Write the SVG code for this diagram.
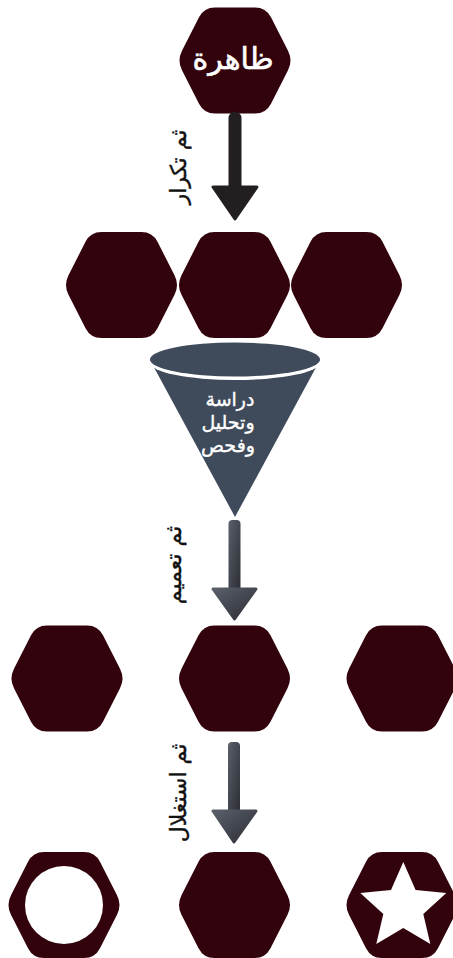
<svg xmlns="http://www.w3.org/2000/svg" width="453" height="958" viewBox="0 0 453 958">
<style>
.hex{fill:#33030d}
.lbl{font-family:"DejaVu Sans","Noto Sans",sans-serif;font-size:22px;fill:#111;text-anchor:middle;stroke:#111;stroke-width:0.4}
.ftxt{font-family:"DejaVu Sans","Noto Sans",sans-serif;font-size:19px;fill:#fff;text-anchor:middle;stroke:#fff;stroke-width:0.4}
.title{font-family:"DejaVu Sans","Noto Sans",sans-serif;font-size:30px;fill:#fff;text-anchor:middle;stroke:#fff;stroke-width:0.6}
</style>
<defs>
<path id="hx" d="M -53.01,-9.8 L -35.99,-43.2 Q -31,-53 -20,-53 L 20,-53 Q 31,-53 35.99,-43.2 L 53.01,-9.8 Q 58,0 53.01,9.8 L 35.99,43.2 Q 31,53 20,53 L -20,53 Q -31,53 -35.99,43.2 L -53.01,9.8 Q -58,0 -53.01,-9.8 Z"/>
<linearGradient id="ag" x1="0" y1="0" x2="1" y2="1">
<stop offset="0" stop-color="#5a5f6a"/>
<stop offset="1" stop-color="#2c2e34"/>
</linearGradient>
</defs>
<g id="phenomenon">
<use href="#hx" class="hex" transform="translate(235,60.5)"/>
<text class="title" x="233" y="69">ظاهرة</text>
</g>
<g id="row2">
<use href="#hx" class="hex" transform="translate(121.5,285)"/>
<use href="#hx" class="hex" transform="translate(234.5,285)"/>
<use href="#hx" class="hex" transform="translate(346.5,285)"/>
</g>
<g id="funnel">
<polygon points="150,360 320,360 235,517" fill="#3f4b5b"/>
<ellipse cx="235" cy="362.5" rx="85" ry="17.5" fill="#fff"/>
<ellipse cx="235" cy="359.5" rx="85" ry="17" fill="#3f4b5b"/>
<text class="ftxt" x="230" y="406">دراسة</text>
<text class="ftxt" x="228" y="429">وتحليل</text>
<text class="ftxt" x="228" y="452">وفحص</text>
</g>
<g id="row3">
<use href="#hx" class="hex" transform="translate(67,678.5)"/>
<use href="#hx" class="hex" transform="translate(234.5,678.5)"/>
<use href="#hx" class="hex" transform="translate(402,678.5)"/>
</g>
<g id="row4-circle">
<use href="#hx" class="hex" transform="translate(64,905)"/>
<circle cx="64" cy="905" r="39" fill="#fff"/>
</g>
<g id="row4-middle">
<use href="#hx" class="hex" transform="translate(234.5,905)"/>
</g>
<g id="row4-star">
<use href="#hx" class="hex" transform="translate(402,905)"/>
<polygon fill="#fff" points="403.3,862 415.6,890 446.3,893 423.3,914 430.3,944 403.3,928 376.3,944 383.3,914 360.3,893 391,890"/>
</g>
<g id="connectors">
<path d="M235,118 L235,190" stroke="#231f20" stroke-width="13" stroke-linecap="round"/>
<path d="M213,187 L257,187 L235,219 Z" fill="#231f20" stroke="#231f20" stroke-width="3" stroke-linejoin="round"/>
<text class="lbl" transform="translate(186,167) rotate(-90)">ثم تكرار</text>

<path d="M228.5,524 Q228.5,520 232.5,520 L236.5,520 Q240.5,520 240.5,524 L240.5,590 L228.5,590 Z" fill="url(#ag)"/>
<path d="M213,589 L256,589 L234.5,619 Z" fill="url(#ag)" stroke="url(#ag)" stroke-width="3" stroke-linejoin="round"/>
<text class="lbl" transform="translate(181,565) rotate(-90)">ثم تعميم</text>

<path d="M228,746 Q228,742 232,742 L236,742 Q240,742 240,746 L240,812 L228,812 Z" fill="url(#ag)"/>
<path d="M213,811 L256,811 L234,842 Z" fill="url(#ag)" stroke="url(#ag)" stroke-width="3" stroke-linejoin="round"/>
<text class="lbl" transform="translate(186,793) rotate(-90)">ثم استغلال</text>
</g>
</svg>
